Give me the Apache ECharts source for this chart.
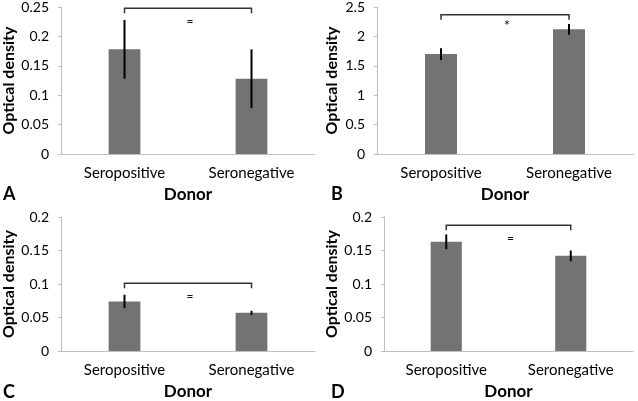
<!DOCTYPE html>
<html lang="en">
<head>
    <meta charset="UTF-8">
    <script src="https://cdn.jsdelivr.net/npm/echarts@6/dist/echarts.min.js"></script>
    <title>Optical density by donor</title>
    <style>
        html, body { margin: 0; padding: 0; background: #fff; }
    </style>
</head>
<body>
    <div id="od-chart" style="width: 638px;height:401px;"></div>
</body>
<script type="text/javascript">
    // data
    var categories = ['Seropositive', 'Seronegative'];
    var panelLetters = ['A', 'B', 'C', 'D'];
    var meansA = [0.178, 0.128];
    var errA = [0.05, 0.05];
    var meansB = [1.70, 2.12];
    var errB = [0.10, 0.09];
    var meansC = [0.074, 0.057];
    var errC = [0.010, 0.003];
    var meansD = [0.163, 0.142];
    var errD = [0.011, 0.008];
    var yMax = [0.25, 2.5, 0.2, 0.2];
    var yStep = [0.05, 0.5, 0.05, 0.05];
    var bracketLevel = [0.248, 2.37, 0.101, 0.1876];
    var bracketSign = ['=', '*', '=', '='];

    var means = [meansA, meansB, meansC, meansD];
    var errs = [errA, errB, errC, errD];

    // grid boxes: left, top, width, height
    var grids = [
        {left: 58, top: 5, width: 257, height: 149},
        {left: 377, top: 5, width: 256, height: 149},
        {left: 58, top: 217, width: 257, height: 135},
        {left: 384, top: 217, width: 249, height: 135}
    ];
    var yNameGap = [44, 37, 44, 44];

    var font = 'Lato, "Open Sans", sans-serif';
    var axisGrey = '#bfbfbf';

    var chart = echarts.init(document.getElementById('od-chart'));

    var option = {
        animation: false,
        textStyle: {fontFamily: font},
        grid: [],
        xAxis: [],
        yAxis: [],
        series: [],
        graphic: []
    };

    grids.forEach(function (g, i) {
        option.grid.push(g);
        option.xAxis.push({
            type: 'category',
            gridIndex: i,
            data: categories,
            name: 'Donor',
            nameLocation: 'middle',
            nameGap: 32,
            nameTextStyle: {fontFamily: font, fontWeight: 'bold', fontSize: 17, color: '#000'},
            axisLine: {lineStyle: {color: axisGrey, width: 1}},
            axisTick: {show: false},
            axisLabel: {fontFamily: font, fontSize: 15, color: '#000', margin: 12}
        });
        option.yAxis.push({
            type: 'value',
            gridIndex: i,
            min: 0,
            max: yMax[i],
            interval: yStep[i],
            name: 'Optical density',
            nameLocation: 'middle',
            nameGap: yNameGap[i],
            nameTextStyle: {fontFamily: font, fontWeight: 'bold', fontSize: 16, color: '#000'},
            axisLine: {show: true, lineStyle: {color: axisGrey, width: 1}},
            axisTick: {show: true, length: 3, lineStyle: {color: axisGrey}},
            splitLine: {show: false},
            axisLabel: {fontFamily: font, fontSize: 14, color: '#000', margin: 12}
        });

        // bars
        option.series.push({
            type: 'bar',
            xAxisIndex: i,
            yAxisIndex: i,
            data: means[i],
            barWidth: '25%',
            itemStyle: {color: '#737373'}
        });

        // error bars
        option.series.push({
            type: 'custom',
            xAxisIndex: i,
            yAxisIndex: i,
            data: means[i].map(function (m, k) { return [k, m, errs[i][k]]; }),
            encode: {x: 0, y: 1},
            z: 5,
            renderItem: function (params, api) {
                var k = api.value(0), m = api.value(1), e = api.value(2);
                var hi = api.coord([k, m + e]);
                var lo = api.coord([k, m - e]);
                return {
                    type: 'line',
                    shape: {x1: hi[0], y1: hi[1], x2: lo[0], y2: lo[1]},
                    style: {stroke: '#000', lineWidth: 2}
                };
            }
        });

        // significance bracket
        option.series.push({
            type: 'custom',
            xAxisIndex: i,
            yAxisIndex: i,
            data: [[0, 1, bracketLevel[i]]],
            encode: {x: [0, 1], y: 2},
            z: 6,
            renderItem: function (params, api) {
                var p0 = api.coord([api.value(0), api.value(2)]);
                var p1 = api.coord([api.value(1), api.value(2)]);
                return {
                    type: 'group',
                    children: [{
                        type: 'polyline',
                        shape: {points: [[p0[0], p0[1] + 5], [p0[0], p0[1]], [p1[0], p1[1]], [p1[0], p1[1] + 5]]},
                        style: {stroke: '#333', lineWidth: 1.5, fill: null}
                    }, {
                        type: 'text',
                        x: (p0[0] + p1[0]) / 2 + 2,
                        y: p0[1] + (bracketSign[i] === '*' ? 12 : 13),
                        style: {
                            text: bracketSign[i],
                            fontFamily: font,
                            fontSize: bracketSign[i] === '*' ? 15 : 12,
                            fill: '#111',
                            align: 'center',
                            verticalAlign: 'middle'
                        }
                    }]
                };
            }
        });

        // panel letter
        option.graphic.push({
            type: 'text',
            left: g.left < 200 ? 3 : 331,
            top: g.top < 100 ? 185 : 383,
            style: {text: panelLetters[i], fontFamily: font, fontWeight: 'bold', fontSize: 18, fill: '#000'}
        });
    });

    chart.setOption(option);
</script>
</html>
